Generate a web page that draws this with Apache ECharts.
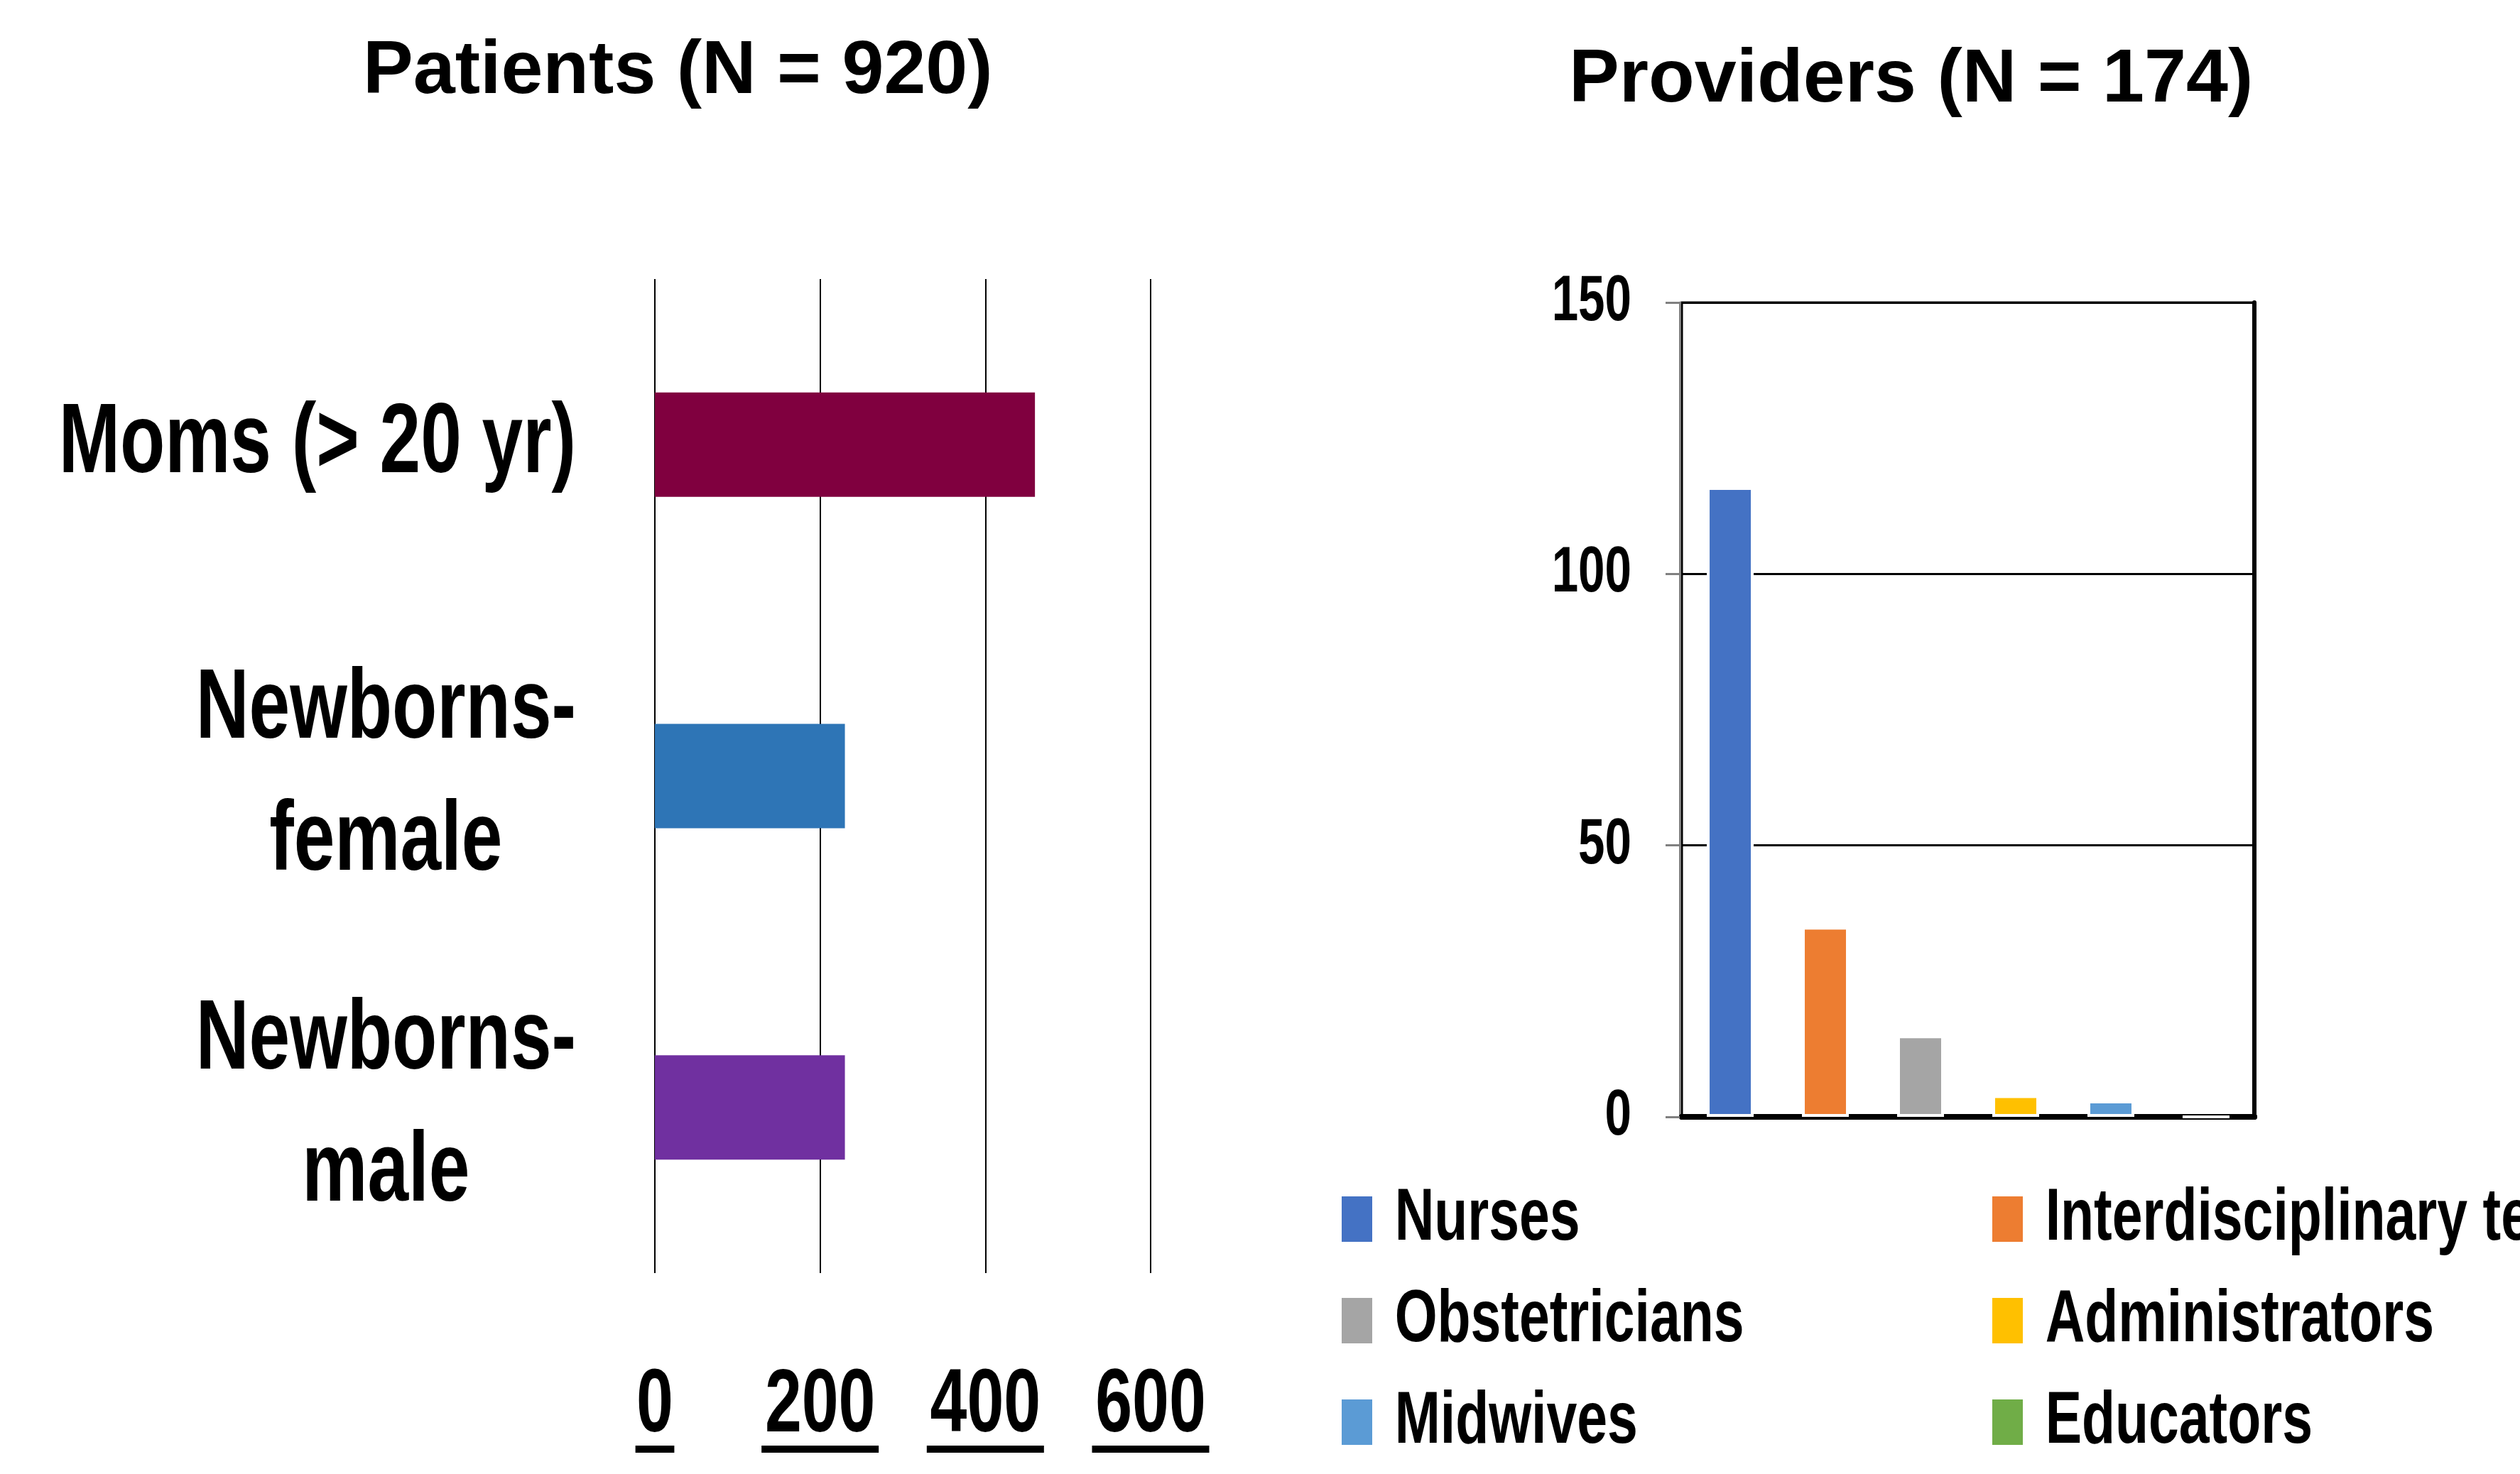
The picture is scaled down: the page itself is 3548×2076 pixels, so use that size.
<!DOCTYPE html>
<html>
<head>
<meta charset="utf-8">
<title>Patients and Providers</title>
<script src="https://cdn.jsdelivr.net/npm/echarts@6/dist/echarts.min.js"></script>
<style>
  html, body { margin: 0; padding: 0; background: #fff; }
  #main { width: 3548px; height: 2076px; }
</style>
</head>
<body>
<div id="main"></div>
<script>
// 左图：患者
const patientCategories = ['Moms (> 20 yr)', 'Newborns-\nfemale', 'Newborns-\nmale']
const patientCounts = [460, 230, 230]
const patientColors = ['#80003F', '#2E75B6', '#7030A0']
const patientTicks = [0, 200, 400, 600]

// 右图：医护人员
const providerRoles = ['Nurses', 'Interdisciplinary team', 'Obstetricians', 'Administrators', 'Midwives', 'Educators']
const providerCounts = [116, 35, 15, 4, 3, 0]
const providerColors = ['#4472C4', '#ED7D31', '#A5A5A5', '#FFC000', '#5B9BD5', '#70AD47']
const providerTicks = [0, 50, 100, 150]

// 标签用的窄体字（没有 Narrow 字体，渲染后横向压缩）
const NARROW = '"Liberation Sans", sans-serif'
const WIDE = '"Liberation Sans", Arial, sans-serif'
const SQUEEZE = 0.74

const chart = echarts.init(document.getElementById('main'))

/* 右图每个角色一个系列，和原图一样一组柱子 */
const providerSeries = providerRoles.map((name, i) => ({
  name: name,
  type: 'bar',
  xAxisIndex: 1,
  yAxisIndex: 1,
  barWidth: 66,
  barGap: '103%',
  itemStyle: { color: providerColors[i], borderColor: '#fff', borderWidth: 4 },
  data: [providerCounts[i]]
}))

const legendCommon = {
  orient: 'vertical',
  top: 1665,
  height: 600,
  padding: 0,
  itemWidth: 43,
  itemHeight: 64,
  itemGap: 39,
  icon: 'rect',
  itemStyle: { borderWidth: 0 },
  textStyle: {
    fontFamily: NARROW,
    fontWeight: 'bold',
    fontSize: 104,
    color: '#000',
    padding: [0, 0, 0, 36]
  }
}

chart.setOption({
  animation: false,
  backgroundColor: '#fff',
  /* 标题 */
  title: [
    {
      text: 'Patients (N = 920)',
      left: 506,
      top: 44,
      textStyle: { fontFamily: WIDE, fontWeight: 'bold', fontSize: 106, color: '#000' }
    },
    {
      text: 'Providers (N = 174)',
      left: 2204,
      top: 56,
      textStyle: { fontFamily: WIDE, fontWeight: 'bold', fontSize: 106, color: '#000' }
    }
  ],
  /* 图例：两列 */
  legend: [
    Object.assign({ left: 1889, data: [providerRoles[0], providerRoles[2], providerRoles[4]] }, legendCommon),
    Object.assign({ left: 2805, data: [providerRoles[1], providerRoles[3], providerRoles[5]] }, legendCommon)
  ],
  grid: [
    { left: 922, top: 393, width: 698, height: 1400, outerBoundsMode: 'none' },
    {
      left: 2368, top: 426, width: 806, height: 1147, outerBoundsMode: 'none',
      show: true, borderColor: '#000', borderWidth: 3
    }
  ],
  xAxis: [
    {
      gridIndex: 0,
      type: 'value',
      min: patientTicks[0],
      max: patientTicks[patientTicks.length - 1],
      interval: 200,
      axisLine: { show: false },
      axisTick: { show: false },
      splitLine: { lineStyle: { color: '#000', width: 2 } },
      axisLabel: {
        margin: 138,
        fontFamily: NARROW,
        formatter: v => '{n|' + v + '}\n{u' + String(v).length + '| }',
        rich: {
          n: { fontFamily: NARROW, fontWeight: 'bold', fontSize: 126, lineHeight: 100, color: '#000', align: 'center' },
          u1: { width: 74, height: 10, lineHeight: 20, backgroundColor: '#000', align: 'center' },
          u3: { width: 223, height: 10, lineHeight: 20, backgroundColor: '#000', align: 'center' }
        }
      }
    },
    {
      gridIndex: 1,
      type: 'category',
      data: [''],
      axisLine: { lineStyle: { color: '#000', width: 8 } },
      axisTick: { show: false },
      axisLabel: { show: false }
    },
    {
      gridIndex: 1,
      type: 'category',
      position: 'top',
      data: [''],
      axisLine: { lineStyle: { color: '#000', width: 8 } },
      axisTick: { show: false },
      axisLabel: { show: false }
    }
  ],
  yAxis: [
    {
      gridIndex: 0,
      type: 'category',
      inverse: true,
      data: patientCategories,
      axisLine: { show: false },
      axisTick: { show: false },
      axisLabel: {
        margin: 111,
        fontFamily: NARROW,
        formatter: v => v.split('\n').map(s => '{a|' + s + '}').join('\n'),
        rich: {
          a: { fontFamily: NARROW, fontWeight: 'bold', fontSize: 140, lineHeight: 186, color: '#000', align: 'center' }
        }
      }
    },
    {
      gridIndex: 1,
      type: 'value',
      min: providerTicks[0],
      max: providerTicks[providerTicks.length - 1],
      interval: 50,
      offset: 3,
      axisLine: { show: true, lineStyle: { color: '#808080', width: 3 } },
      axisTick: { show: true, length: 20, lineStyle: { color: '#808080', width: 3 } },
      splitLine: { lineStyle: { color: '#000', width: 3 } },
      axisLabel: {
        margin: 68,
        padding: [14, 0, 0, 0],
        fontFamily: NARROW,
        fontWeight: 'bold',
        fontSize: 91,
        color: '#000'
      }
    },
    {
      gridIndex: 1,
      type: 'value',
      position: 'right',
      min: providerTicks[0],
      max: providerTicks[providerTicks.length - 1],
      interval: 50,
      axisLine: { show: true, lineStyle: { color: '#000', width: 6 } },
      axisTick: { show: false },
      axisLabel: { show: false },
      splitLine: { show: false }
    }
  ],
  /* 系列 */
  series: [
    {
      name: 'Patients',
      type: 'bar',
      xAxisIndex: 0,
      yAxisIndex: 0,
      barWidth: 147,
      data: patientCounts.map((v, i) => ({ value: v, itemStyle: { color: patientColors[i] } }))
    }
  ].concat(providerSeries)
})

/**
 * @description: 把窄体标签横向压缩，原点放在文字锚点上
 */
function squeeze(el) {
  if (el.type === 'text' && el.style && el.style.fontFamily === NARROW) {
    el.originX = el.style.x || 0
    el.originY = el.style.y || 0
    el.scaleX = SQUEEZE
    el.markRedraw()
    return
  }
  if (el.isGroup) el.eachChild(squeeze)
}
chart.getZr().storage.getRoots().forEach(squeeze)
chart.getZr().refreshImmediately()
</script>
</body>
</html>
